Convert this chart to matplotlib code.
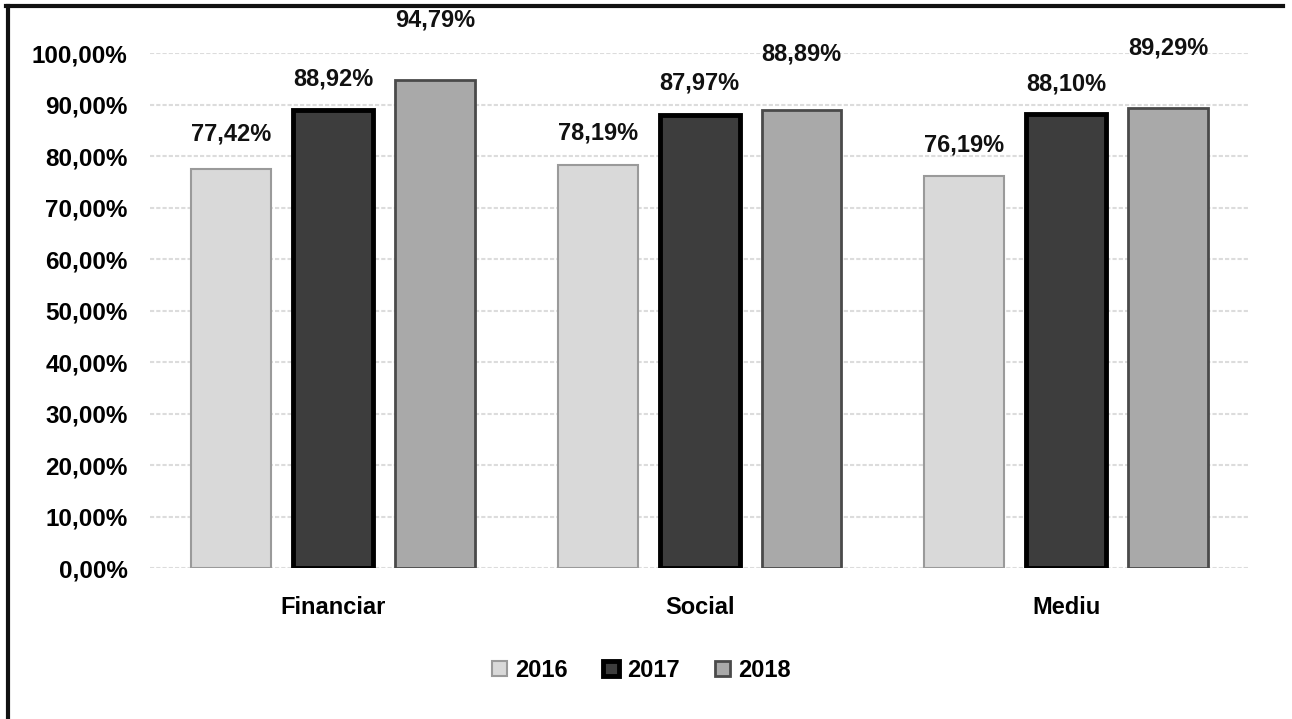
import numpy as np
import matplotlib
matplotlib.use('Agg')
import matplotlib.pyplot as plt
from matplotlib.lines import Line2D

categories = ['Financiar', 'Social', 'Mediu']
years = ['2016', '2017', '2018']
v2016 = [77.42, 78.19, 76.19]
v2017 = [88.92, 87.97, 88.10]
v2018 = [94.79, 88.89, 89.29]

series = [v2016, v2017, v2018]
faces = ['#d9d9d9', '#3d3d3d', '#a9a9a9']
edges = ['#9a9a9a', '#000000', '#4a4a4a']
widths = [1.5, 3.5, 2.0]
# label lift above each bar top (data units), 2018 labels sit higher
lifts = [[6.8, 6.4, 6.0], [6.0, 6.3, 6.0], [11.6, 10.9, 11.8]]

plt.rcParams['font.family'] = ['Liberation Sans', 'DejaVu Sans']

fig = plt.figure(figsize=(12.92, 7.19), dpi=100)
ax = fig.add_axes([0.116, 0.21, 0.851, 0.716])

x = np.arange(len(categories))
bw = 0.218
step = 0.278
for k, vals in enumerate(series):
    pos = x + (k - 1) * step
    ax.bar(pos, vals, bw, color=faces[k], edgecolor=edges[k], linewidth=widths[k],
           label=years[k], zorder=3)
    for px, v, d in zip(pos, vals, lifts[k]):
        ax.text(px, v + d, ('%.2f%%' % v).replace('.', ','), ha='center', va='center',
                fontsize=17, fontweight='bold', color='#111111', clip_on=False)

ax.set_xlim(-0.5, 2.5)
ax.set_ylim(0, 100)
ax.set_yticks(np.arange(0, 101, 10))
ax.set_yticklabels([('%.2f%%' % t).replace('.', ',') for t in np.arange(0, 101, 10)],
                   fontsize=17.5, fontweight='bold')
ax.set_xticks(x)
ax.set_xticklabels(categories, fontsize=17, fontweight='bold')
ax.tick_params(axis='y', length=0, pad=16)
ax.tick_params(axis='x', length=0, pad=20)
ax.grid(axis='y', color='#dcdcdc', linewidth=1.5, linestyle=(0, (2, 1)), zorder=0)
for s in ax.spines.values():
    s.set_visible(False)

ax.legend(loc='upper center', bbox_to_anchor=(0.447, -0.135), ncol=3, frameon=False,
          handlelength=0.65, handleheight=0.65, handletextpad=0.35,
          columnspacing=1.5, prop={'weight': 'bold', 'size': 17})

# outer frame: top and left edges
fig.add_artist(Line2D([0.005, 0.993], [0.992, 0.992], color='#111111', linewidth=3,
                      transform=fig.transFigure))
fig.add_artist(Line2D([0.0065, 0.0065], [0.0, 0.992], color='#111111', linewidth=3,
                      transform=fig.transFigure))

fig.savefig('out.png', dpi=100)
